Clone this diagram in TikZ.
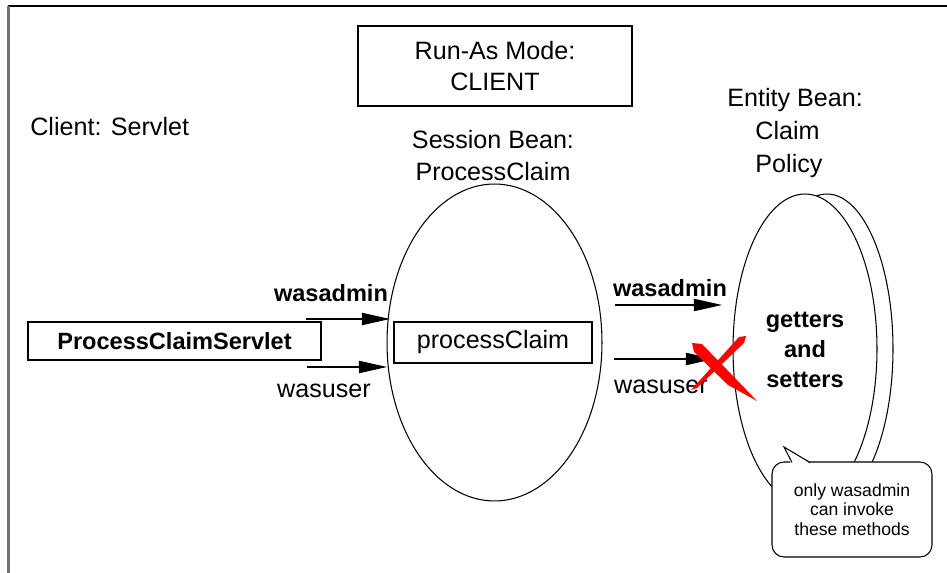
\documentclass[tikz,border=0pt]{standalone}
\usepackage{fontspec}
\setmainfont{Liberation Sans}
\usetikzlibrary{arrows.meta,shapes.geometric}

\begin{document}
\begin{tikzpicture}[x=0.02cm,y=-0.02cm,
  txt/.style={font=\fontsize{14.3}{17.5}\selectfont,inner sep=0pt,align=center},
  btxt/.style={font=\fontsize{13.4}{17.3}\selectfont\bfseries,inner sep=0pt,align=center},
  box/.style={draw,line width=0.8pt,inner sep=0pt},
  bean/.style={draw,ellipse,line width=0.6pt,fill=white,inner sep=0pt},
  arr/.style={-{Triangle[length=16pt,width=7pt]},line width=0.6pt}]
\useasboundingbox (0,0) rectangle (947,573);
\draw[line width=1.1pt] (8,6)--(947,6); \draw[black!55,line width=1.2pt] (8.5,6)--(8.5,573);
% run-as mode and client
\node[box,txt,minimum width=5.48cm,minimum height=1.6cm] (runas) at (495,66) {Run-As Mode:\\CLIENT};
\node[txt,anchor=west] (client) at (30,127) {Client: Servlet};
\node[box,btxt,minimum width=5.86cm,minimum height=0.76cm] (servlet) at (174.5,341) {ProcessClaimServlet};
% session bean
\node[txt,font=\fontsize{14.3}{18.2}\selectfont] (sesslbl) at (493,156) {Session Bean:\\ProcessClaim};
\node[bean,minimum width=4.3cm,minimum height=6.34cm] (sess) at (494.5,342.5) {};
\node[box,txt,minimum width=3.96cm,minimum height=0.82cm] (pc) at (493,342.5) {processClaim};
% entity bean
\node[txt,align=left,anchor=west,font=\fontsize{14.3}{18.8}\selectfont] (entlbl) at (727,133) {Entity Bean:\\\hspace*{16pt}Claim\\\hspace*{16pt}Policy};
\node[bean,minimum width=2.64cm,minimum height=6.2cm] (ent2) at (827,349) {};
\node[bean,minimum width=2.88cm,minimum height=6.2cm] (ent1) at (805,349) {};
\node[btxt] (gs) at (805,350) {getters\\and\\setters};
% calls
\foreach \n/\xa/\xb/\y in {la/306/390/319,lu/307/387/367,ra/615/722/305,ru/614/714/359}{
  \coordinate (\n s) at (\xa,\y); \coordinate (\n e) at (\xb,\y); \draw[arr] (\n s)--(\n e);}
\node[btxt] (la) at (331,293) {wasadmin}; \node[txt] (lu) at (324,391) {wasuser};
\node[btxt] (ra) at (670,288) {wasadmin}; \node[txt] (ru) at (661,387) {wasuser};
% denied
\fill[red] (691,390)--(739,337)--(746,336)--(744,343)--(697,388)--cycle;
\fill[red] (692,343)--(702,344)--(735,378)--(757,401)--(728,385)--(694,352)--cycle;
% note
\node[draw,fill=white,line width=0.6pt,rounded corners=0.24cm,minimum width=3.2cm,minimum height=1.9cm,inner sep=0pt,
  font=\fontsize{10}{11.2}\selectfont,align=center] (note) at (852,509.5) {only wasadmin\\can invoke\\these methods};
\coordinate (tip) at (784,447);
\fill[white] (791,464)--(tip)--(811,464)--cycle; \draw[line width=0.6pt] (792,462.5)--(tip)--(810,462.5);
\end{tikzpicture}
\end{document}
